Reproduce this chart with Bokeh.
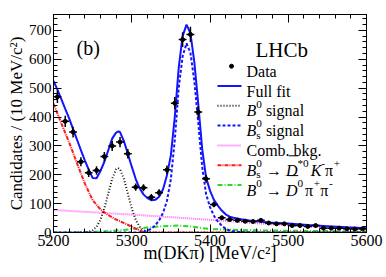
import math
from bokeh.plotting import figure
from bokeh.models import (Range1d, LinearAxis, SingleIntervalTicker, Label,
                          CustomJSTickFormatter)
from bokeh.embed import file_html
from bokeh.resources import INLINE

# ---------------- data ----------------
bin_centres = [5205, 5215, 5225, 5235, 5245, 5255, 5265, 5275, 5285, 5295,
               5305, 5315, 5325, 5335, 5345, 5355, 5365, 5375, 5385, 5395,
               5405, 5415, 5425, 5435, 5445, 5455, 5465, 5475, 5485, 5495,
               5505, 5515, 5525, 5535, 5545, 5555, 5565, 5575, 5585, 5595]
counts = [470, 385, 348, 245, 207, 215, 263, 300, 313, 273,
          157, 155, 122, 138, 217, 448, 668, 686, 417, 186,
          97, 51, 45, 42, 39, 38, 42, 33, 30, 30,
          24, 24, 21, 24, 15, 15, 15, 13, 12, 13]
bin_half_width = 5

fit_mass = [5200, 5205, 5210, 5215, 5220, 5225, 5230, 5235, 5240, 5245,
            5250, 5255, 5260, 5265, 5270, 5275, 5280, 5283, 5285, 5290, 5295,
            5300, 5305, 5310, 5315, 5320, 5325, 5330, 5335, 5340, 5345,
            5350, 5355, 5360, 5365, 5370, 5375, 5380, 5385, 5390, 5395,
            5400, 5405, 5410, 5415, 5420, 5425, 5430, 5440, 5450, 5460,
            5475, 5500, 5525, 5550, 5575, 5600]
fit_total = [525, 495, 462, 428, 395, 358, 322, 285, 250, 218,
             189, 188, 213, 245, 285, 325, 346, 350, 348, 316, 273,
             228, 186, 153, 132, 119, 112, 113, 124, 150, 198,
             268, 400, 570, 680, 720, 690, 590, 445, 290, 190,
             145, 113, 93, 76, 63, 55, 51, 46, 42, 39,
             35, 31, 26, 22, 18, 15]

b0_mass = [5200, 5240, 5245, 5250, 5255, 5260, 5265, 5270, 5275, 5280, 5282.5,
           5285, 5290, 5295, 5300, 5305, 5310, 5315, 5320, 5325, 5330, 5600]
b0_signal = [0, 0.7, 2.5, 7.6, 19.8, 44, 84, 135, 186, 219, 223,
             219, 186, 135, 84, 44, 19.8, 7.6, 2.5, 0.7, 0.2, 0]

bs_mass = [5200, 5305, 5310, 5315, 5320, 5325, 5330, 5335, 5340, 5345,
           5350, 5355, 5360, 5365, 5370, 5375, 5380, 5385, 5390, 5395,
           5400, 5405, 5410, 5415, 5420, 5425, 5430, 5440, 5450, 5460, 5600]
bs_signal = [0, 0, 0.5, 2, 6, 13, 25, 42, 68, 110,
             185, 320, 500, 610, 655, 622, 524, 381, 228, 133,
             88, 58, 38, 24, 13, 7, 4, 1.5, 0.5, 0, 0]

comb_mass = [5200, 5250, 5300, 5350, 5400, 5450, 5500, 5550, 5600]
comb_bkg = [78, 70, 62, 53, 44, 34, 25, 18, 11]

dstar_mass = [5200, 5210, 5220, 5230, 5240, 5250, 5260, 5270, 5280, 5290,
              5300, 5310, 5315, 5320, 5600]
dstar_bkg = [446, 378, 312, 240, 170, 112, 80, 60, 45, 33,
             20, 7, 2, 0, 0]

dpipi_mass = [5200, 5230, 5250, 5270, 5290, 5300, 5320, 5340, 5360, 5375,
              5390, 5400, 5420, 5450, 5500, 5550, 5600]
dpipi_bkg = [0, 0.5, 2, 5, 9, 12, 17, 22, 24, 21,
             15, 12, 10, 8, 6, 5, 4]

x_range_limits = [5200, 5600]
y_range_limits = [0, 755]
x_tick_step = 100
y_tick_step = 100
x_title = "m(DKπ) [MeV/c²]"
y_title = "Candidates / (10 MeV/c²)"

# ---------------- layout helpers ----------------
SERIF = "Liberation Serif"
CANVAS_W, CANVAS_H = 384, 275
# pixel geometry of the plotting frame on the canvas
FL, FR, FT, FB = 53, 366, 14, 232


def dx(px):
    return x_range_limits[0] + (px - FL) / (FR - FL) * (x_range_limits[1] - x_range_limits[0])


def dy(py):
    return y_range_limits[0] + (FB - py) / (FB - FT) * (y_range_limits[1] - y_range_limits[0])


W = {' ': 250, '(': 333, ')': 333, '[': 333, ']': 333, '/': 278, '*': 500,
     '+': 564, '-': 333, '.': 250, '→': 1000, 'π': 549}
for d in "0123456789":
    W[d] = 500
W.update({'A': 722, 'B': 667, 'C': 667, 'D': 722, 'F': 556, 'H': 722, 'K': 722,
          'L': 611, 'M': 889, 'V': 722,
          'a': 444, 'b': 500, 'c': 444, 'd': 500, 'e': 444, 'f': 333, 'g': 500,
          'i': 278, 'k': 500, 'l': 278, 'm': 778, 'n': 500, 'o': 500, 's': 389,
          't': 278, 'u': 500})
WI = {'B': 611, 'D': 722, 'K': 667, 'c': 444, 'm': 722, 's': 389}


def tw(s, size, italic=False):
    tab = WI if italic else W
    return sum(tab.get(ch, W.get(ch, 500)) for ch in s) * size / 1000.0


p = figure(width=CANVAS_W, height=CANVAS_H,
           x_range=Range1d(*x_range_limits), y_range=Range1d(*y_range_limits),
           output_backend="svg", toolbar_location=None,
           min_border_left=FL, min_border_right=CANVAS_W - FR,
           min_border_top=FT, min_border_bottom=CANVAS_H - FB)
p.background_fill_color = "white"
p.border_fill_color = "white"
p.outline_line_color = "black"
p.outline_line_width = 1
p.xgrid.visible = False
p.ygrid.visible = False


def style_axis(ax, size, show_labels=True):
    ax.major_tick_in = 8
    ax.major_tick_out = 0
    ax.minor_tick_in = 4
    ax.minor_tick_out = 0
    ax.axis_line_color = "black"
    ax.major_tick_line_color = "black"
    ax.minor_tick_line_color = "black"
    ax.major_label_text_font = SERIF
    ax.major_label_text_font_size = f"{size}px"
    ax.major_label_text_color = "black"
    if not show_labels:
        ax.axis_label = None
        ax.formatter = CustomJSTickFormatter(code="return ''")
        ax.major_label_standoff = 0
        ax.major_label_text_font_size = "0px"


p.xaxis.ticker = SingleIntervalTicker(interval=x_tick_step, num_minor_ticks=5)
p.yaxis.ticker = SingleIntervalTicker(interval=y_tick_step, num_minor_ticks=5)
style_axis(p.xaxis[0], 16)
style_axis(p.yaxis[0], 15)
p.xaxis.major_label_standoff = 2
p.yaxis.major_label_standoff = 2

# axis titles
p.xaxis.axis_label = x_title
p.yaxis.axis_label = y_title
for ax, size, standoff in ((p.xaxis[0], 18, -6), (p.yaxis[0], 17, 0)):
    ax.axis_label_text_font = SERIF
    ax.axis_label_text_font_size = f"{size}px"
    ax.axis_label_text_font_style = "normal"
    ax.axis_label_text_color = "black"
    ax.axis_label_standoff = standoff
    try:
        ax.axis_label_align = "right"
    except Exception:
        pass

top_ax = LinearAxis(ticker=SingleIntervalTicker(interval=x_tick_step, num_minor_ticks=5))
right_ax = LinearAxis(ticker=SingleIntervalTicker(interval=y_tick_step, num_minor_ticks=5))
style_axis(top_ax, 16, False)
style_axis(right_ax, 16, False)
p.add_layout(top_ax, "above")
p.add_layout(right_ax, "right")

# ---------------- curves ----------------
BLUE = "#1414ff"
GREEN_ST = dict(line_color="#22dd22", line_width=2, line_dash="5 2 1 2")
COMB_ST = dict(line_color="#ff66ff", line_width=2, line_dash="1 1")
RED_ST = dict(line_color="#ff1a1a", line_width=2, line_dash="4 1 1 1")
B0_ST = dict(line_color="#111111", line_width=2, line_dash="1 2")
BS_ST = dict(line_color=BLUE, line_width=2, line_dash="3 2")
FIT_ST = dict(line_color=BLUE, line_width=2)

p.line(dpipi_mass, dpipi_bkg, **GREEN_ST)
p.line(comb_mass, comb_bkg, **COMB_ST)
p.line(dstar_mass, dstar_bkg, **RED_ST)
p.line(b0_mass, b0_signal, **B0_ST)
p.line(bs_mass, bs_signal, **BS_ST)
p.line(fit_mass, fit_total, **FIT_ST)

# data points with error bars
errs = [math.sqrt(c) for c in counts]
p.segment(x0=[x - bin_half_width for x in bin_centres], y0=counts,
          x1=[x + bin_half_width for x in bin_centres], y1=counts,
          line_color="black", line_width=1.5)
p.segment(x0=bin_centres, y0=[c - e for c, e in zip(counts, errs)],
          x1=bin_centres, y1=[c + e for c, e in zip(counts, errs)],
          line_color="black", line_width=1.5)
p.scatter(bin_centres, counts, size=4, color="black")

# ---------------- texts inside the frame ----------------
overlines = []


def put(text, px, base_py, size, italic=False):
    p.add_layout(Label(x=dx(px), y=dy(base_py), text=text, text_font=SERIF,
                       text_font_size=f"{size:.1f}px",
                       text_font_style="italic" if italic else "normal",
                       text_align="left", text_baseline="alphabetic",
                       text_color="black"))


def rich(parts, px, base_py, size=16):
    x = px
    small = size * 0.7
    for part in parts:
        kind = part[0]
        if kind in ("r", "i"):
            it = kind == "i"
            put(part[1], x, base_py, size, it)
            x += tw(part[1], size, it)
        elif kind == "bar":
            put(part[1], x, base_py, size, True)
            w = tw(part[1], size, True)
            overlines.append((x + 0.18 * size, x + w + 0.05 * size, base_py - 0.9 * size))
            x += w
        elif kind == "sup":
            put(part[1], x, base_py - 0.42 * size, small)
            x += tw(part[1], small)
        elif kind == "stack":
            put(part[1], x, base_py - 0.42 * size, small)
            put(part[2], x, base_py + 0.25 * size, small)
            x += max(tw(part[1], small), tw(part[2], small))
        elif kind == "gap":
            x += part[1]
    return x


# "(b)" and LHCb
put("(b)", 76, 47, 20)
put("LHCb", 255, 49, 21)

# legend
LX0, LX1, TX = 217, 241, 246
rows = [70.7, 90.5, 110.3, 130.1, 149.9, 169.7, 189.5]
p.scatter([dx(231)], [dy(rows[0] - 5)], size=4, color="black")
rich([("r", "Data")], TX, rows[0])
for r, st in zip(rows[1:], [FIT_ST, B0_ST, BS_ST, COMB_ST, RED_ST, GREEN_ST]):
    p.line([dx(LX0), dx(LX1)], [dy(r - 5), dy(r - 5)], **st)

rich([("r", "Full fit")], TX, rows[1])
rich([("i", "B"), ("sup", "0"), ("gap", 4), ("r", "signal")], TX, rows[2])
rich([("i", "B"), ("stack", "0", "s"), ("gap", 4), ("r", "signal")], TX, rows[3])
rich([("r", "Comb. bkg.")], TX, rows[4])
rich([("i", "B"), ("stack", "0", "s"), ("gap", 4), ("r", "→"), ("gap", 4),
      ("bar", "D"), ("sup", "*0"), ("gap", 2), ("i", "K"), ("sup", "-"), ("r", "π"),
      ("sup", "+")], TX, rows[5])
rich([("i", "B"), ("sup", "0"), ("gap", 4), ("r", "→"), ("gap", 4),
      ("bar", "D"), ("sup", "0"), ("gap", 2), ("r", "π"), ("sup", "+"), ("r", "π"),
      ("sup", "-")], TX, rows[6])

if overlines:
    p.segment(x0=[dx(a) for a, b, c in overlines], y0=[dy(c) for a, b, c in overlines],
              x1=[dx(b) for a, b, c in overlines], y1=[dy(c) for a, b, c in overlines],
              line_color="black", line_width=1)

open("out.html", "w").write(file_html(p, INLINE))
